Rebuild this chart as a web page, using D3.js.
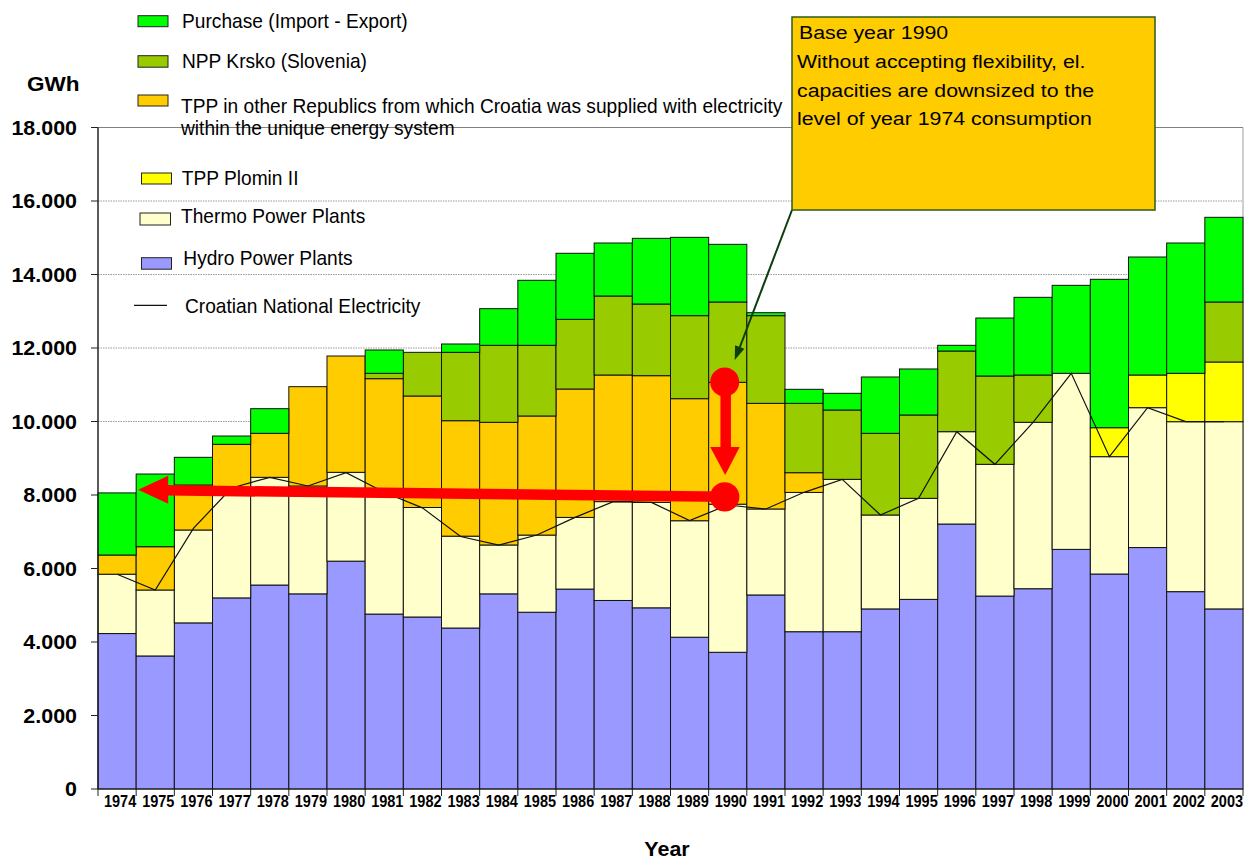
<!DOCTYPE html>
<html><head><meta charset="utf-8">
<script src="https://cdn.jsdelivr.net/npm/d3@7"></script>
<style>body{margin:0;background:#fff}svg{display:block}</style>
</head><body>
<svg id="chart" width="1247" height="859"></svg>
<script>
// ---------------- DATA ----------------
const years = ["1974","1975","1976","1977","1978","1979","1980","1981","1982","1983","1984","1985","1986","1987","1988","1989","1990","1991","1992","1993","1994","1995","1996","1997","1998","1999","2000","2001","2002","2003"];
const hydro    = [4230,3620,4520,5200,5550,5310,6200,4760,4680,4380,5310,4810,5440,5130,4930,4130,3720,5280,4280,4280,4900,5160,7210,5250,5450,6520,5850,6570,5370,4900];
const thermo   = [1615,1795,2528,2950,2931,2935,2417,3290,2980,2500,1330,2100,1950,2690,2870,3170,4030,2340,3790,4146,2556,2749,2513,3585,4528,4791,3193,3806,4625,5095];
const plomin   = [0,0,0,0,0,0,0,0,0,0,0,0,0,0,0,0,0,0,0,0,0,0,0,0,0,0,788,889,1316,1624];
const tppOther = [522,1178,1224,1229,1197,2703,3165,3115,3034,3142,3338,3240,3494,3445,3447,3321,3316,2874,537,0,0,0,0,0,0,0,0,0,0,0];
const krsko    = [0,0,0,0,0,0,0,146,1188,1860,2095,1923,1896,2150,1950,2259,2186,2386,1887,1887,2222,2268,2195,2403,1287,0,0,0,0,1633];
const purchase = [1690,1978,753,226,671,0,0,635,0,227,997,1769,1797,1442,1787,2131,1569,81,382,454,1533,1252,155,1578,2114,2394,4038,3211,3546,2304];
const national = [5842,5415,7093,8190,8481,8245,8608,8073,7650,6870,6639,6912,7392,7819,7800,7302,7728,7619,8073,8426,7456,7909,9723,8835,9978,11311,9043,10376,9995,9995];
const yTicks = [0,2000,4000,6000,8000,10000,12000,14000,16000,18000];
const seriesKeys = ["hydro","thermo","plomin","tppOther","krsko","purchase"];
const seriesColors = ["#9999FF","#FFFFCC","#FFFF00","#FFCC00","#99CC00","#00FF00"];
const legendLabels = {
  purchase:["Purchase (Import - Export)"],
  krsko:["NPP Krsko (Slovenia)"],
  tppOther:["TPP in other Republics from which Croatia was supplied with electricity","within the unique energy system"],
  plomin:["TPP Plomin II"],
  thermo:["Thermo Power Plants"],
  hydro:["Hydro Power Plants"]
};
const lineLabel = "Croatian National Electricity";
const yUnit = "GWh", xTitle = "Year";
const calloutLines = ["Base year 1990","Without accepting flexibility, el.","capacities are downsized to the","level of year 1974 consumption"];
// annotation anchor values (GWh)
const baseYear = "1990", targetYear = "1975";
const arrowFromValue = 7950, arrowToValue = 8140;
const dropTopValue = 11075, dropHeadBase = 9306, dropTipValue = 8544;
const calloutTipValue = 11673;

// ---------------- FONTS ----------------
function hasFont(name){
  const c=document.createElement('canvas').getContext('2d');
  const s='abcdefghijklmnopqrstuvwxyzABCDEFG0123456789';
  c.font='40px monospace'; const w1=c.measureText(s).width;
  c.font='40px "'+name+'", monospace'; const w2=c.measureText(s).width;
  return Math.abs(w1-w2)>0.5;
}
const SX = 1.1; // horizontal stretch of the original picture
const NARROW = hasFont('Liberation Sans Narrow');
const BASE = '"Liberation Sans", Arial, sans-serif';
const NFAM = NARROW ? '"Liberation Sans Narrow", "Arial Narrow", sans-serif' : BASE;
const NSX = NARROW ? SX : SX*0.83;
const TSX = NARROW ? SX : SX*0.775;

// ---------------- SCALES ----------------
const svg = d3.select('#chart');
const x = d3.scaleBand().domain(years).range([98,1243]).padding(0);
const y = d3.scaleLinear().domain([0,18000]).range([789,127.5]);
const bw = x.bandwidth();
const fmt = d3.formatLocale({thousands:".",grouping:[3],decimal:",",currency:["",""]}).format(",");

function label(parent,px,py,str,o){
  return parent.append('text')
    .attr('transform',`translate(${px},${py}) scale(${o.sx||SX},1)`)
    .attr('text-anchor',o.anchor||'start')
    .style('font-family',o.family||BASE)
    .style('font-size',o.size+'px')
    .style('font-weight',o.weight||'normal')
    .attr('fill',o.fill||'#000')
    .text(str);
}

// ---------------- GRID ----------------
const grid = svg.append('g');
grid.selectAll('line.g').data(yTicks.filter(d=>d>0 && d<18000)).join('line')
  .attr('x1',98).attr('x2',1243).attr('y1',d=>y(d)).attr('y2',d=>y(d))
  .attr('stroke','#9a9a9a').attr('stroke-width',1).attr('stroke-dasharray','1.5,1');
grid.append('line').attr('x1',98).attr('x2',1243).attr('y1',y(18000)).attr('y2',y(18000)).attr('stroke','#808080');
grid.append('line').attr('x1',1243).attr('x2',1243).attr('y1',y(18000)).attr('y2',y(0)).attr('stroke','#a0a0a0');

// ---------------- BARS ----------------
const table = years.map((yr,i)=>({year:yr,hydro:hydro[i],thermo:thermo[i],plomin:plomin[i],tppOther:tppOther[i],krsko:krsko[i],purchase:purchase[i]}));
const stacked = d3.stack().keys(seriesKeys)(table);
const bars = svg.append('g');
stacked.forEach((s,si)=>{
  bars.append('g').selectAll('rect').data(s.filter(d=>d[1]-d[0]>0)).join('rect')
    .attr('x',d=>x(d.data.year)).attr('width',bw)
    .attr('y',d=>y(d[1])).attr('height',d=>y(d[0])-y(d[1]))
    .attr('fill',seriesColors[si]).attr('stroke','#111').attr('stroke-width',1);
});

// ---------------- LINE ----------------
svg.append('path')
  .datum(years.map((yr,i)=>({yr,v:national[i]})))
  .attr('d',d3.line().x(d=>x(d.yr)+bw/2).y(d=>y(d.v)))
  .attr('fill','none').attr('stroke','#111').attr('stroke-width',1.2);

// ---------------- AXES ----------------
const ax = svg.append('g');
ax.append('line').attr('x1',98).attr('x2',98).attr('y1',y(18000)).attr('y2',y(0)).attr('stroke','#222').attr('stroke-width',1.5);
ax.append('line').attr('x1',98).attr('x2',1243).attr('y1',y(0)).attr('y2',y(0)).attr('stroke','#222').attr('stroke-width',1.2);
yTicks.forEach(t=>{
  ax.append('line').attr('x1',91).attr('x2',98).attr('y1',y(t)).attr('y2',y(t)).attr('stroke','#222');
  label(ax,77,y(t)+7,fmt(t),{size:19.5,weight:'bold',anchor:'end'});
});
years.forEach(yr=>{
  ax.append('line').attr('x1',x(yr)).attr('x2',x(yr)).attr('y1',y(0)).attr('y2',y(0)+7).attr('stroke','#222');
  label(ax,x(yr)+bw/2+3,806.5,yr,{size:17,weight:'bold',anchor:'middle',family:NFAM,sx:TSX});
});
ax.append('line').attr('x1',1243).attr('x2',1243).attr('y1',y(0)).attr('y2',y(0)+7).attr('stroke','#222');
label(ax,27,91,yUnit,{size:20.5,weight:'bold'});
label(ax,667,856,xTitle,{size:19.5,weight:'bold',anchor:'middle'});

// ---------------- LEGEND ----------------
const lg = svg.append('g');
const legendLayout = [
  {key:'purchase', sw:[138,15.7,30,11], tx:182, ty:[27.7]},
  {key:'krsko',    sw:[138,55.7,30,11.5], tx:182, ty:[67.7]},
  {key:'tppOther', sw:[138,95,30,11], tx:181, ty:[112.7,135]},
  {key:'plomin',   sw:[141.5,173,30,11], tx:181.7, ty:[184.7]},
  {key:'thermo',   sw:[140,213,30.5,12], tx:181, ty:[222.5]},
  {key:'hydro',    sw:[141.5,257.7,30,11.5], tx:183.3, ty:[264.7]}
];
legendLayout.forEach(L=>{
  const ci = seriesKeys.indexOf(L.key);
  lg.append('rect').attr('x',L.sw[0]).attr('y',L.sw[1]).attr('width',L.sw[2]).attr('height',L.sw[3])
    .attr('fill',seriesColors[ci]).attr('stroke','#222').attr('stroke-width',1);
  legendLabels[L.key].forEach((t,j)=>label(lg,L.tx,L.ty[j],t,{size:21,family:NFAM,sx:NSX}));
});
lg.append('line').attr('x1',134).attr('x2',167).attr('y1',305.3).attr('y2',305.3).attr('stroke','#111').attr('stroke-width',1.2);
label(lg,185,313,lineLabel,{size:21,family:NFAM,sx:NSX});

// ---------------- RED ANNOTATIONS ----------------
const an = svg.append('g');
const cx = x(baseYear)+bw*0.42;
const tipX = x(targetYear)+2;
// horizontal arrow
an.append('line').attr('x1',cx).attr('y1',y(arrowFromValue)).attr('x2',tipX+28).attr('y2',y(arrowToValue)+0.5)
  .attr('stroke','#FF0000').attr('stroke-width',10.5);
an.append('path').attr('d',`M${tipX},${y(arrowToValue)} L${tipX+30},${y(arrowToValue)-14} L${tipX+30},${y(arrowToValue)+14} Z`).attr('fill','#FF0000');
an.append('circle').attr('cx',cx).attr('cy',y(arrowFromValue)).attr('r',14.7).attr('fill','#FF0000');
// vertical arrow
an.append('line').attr('x1',cx+1).attr('x2',cx+1).attr('y1',y(dropTopValue)).attr('y2',y(dropHeadBase)+1)
  .attr('stroke','#FF0000').attr('stroke-width',10.5);
an.append('path').attr('d',`M${cx-14.5},${y(dropHeadBase)} L${cx+15},${y(dropHeadBase)} L${cx+0.5},${y(dropTipValue)} Z`).attr('fill','#FF0000');
an.append('circle').attr('cx',cx).attr('cy',y(dropTopValue)).attr('r',14.5).attr('fill','#FF0000');

// ---------------- CALLOUT ----------------
const co = svg.append('g');
const box = {x:792,y:17,w:363,h:193};
const ptTip = [x(baseYear)+bw/2+7, y(calloutTipValue)];
co.append('line').attr('x1',box.x).attr('y1',box.y+box.h).attr('x2',ptTip[0]+2.5).attr('y2',ptTip[1]-6)
  .attr('stroke','#0d3d0d').attr('stroke-width',2);
(function(){
  const dx = ptTip[0]-box.x, dy = ptTip[1]-(box.y+box.h);
  const len = Math.hypot(dx,dy), ux=dx/len, uy=dy/len, px=-uy, py=ux;
  const bx = ptTip[0]-ux*14, by = ptTip[1]-uy*14;
  co.append('path').attr('d',`M${ptTip[0]},${ptTip[1]} L${bx+px*5},${by+py*5} L${bx-px*5},${by-py*5} Z`).attr('fill','#0d3d0d');
})();
co.append('rect').attr('x',box.x).attr('y',box.y).attr('width',box.w).attr('height',box.h)
  .attr('fill','#FFCC00').attr('stroke','#2e5a1c').attr('stroke-width',1.5);
const cBase=[39,68,96.5,124.5], cX=[799,797,797,797];
calloutLines.forEach((t,i)=>label(co,cX[i],cBase[i],t,{size:19.2,sx:1.11}));
</script>
</body></html>
